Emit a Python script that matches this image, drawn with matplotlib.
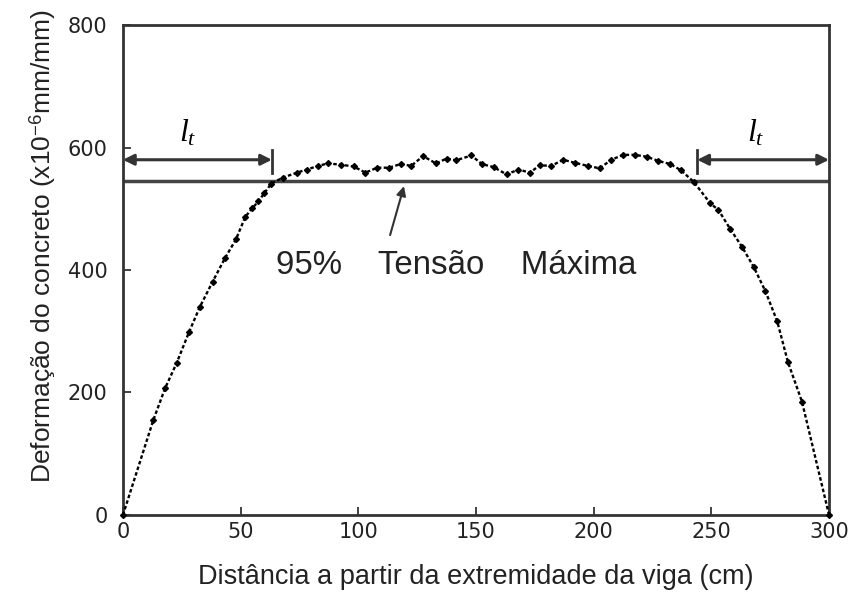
import numpy as np
import matplotlib
matplotlib.use("Agg")
from matplotlib import pyplot as plt

# strain along the beam
dist = [0, 12.9, 17.9, 22.8, 28.0, 32.7, 38.1, 43.3, 48.0, 52.0, 55.0, 57.5, 60.0, 63.0,
        68.0, 74.0, 78.0, 83.0, 87.0, 92.5, 98.0, 103.0, 108.0, 113.0, 118.0, 122.5,
        127.5, 133.0, 137.5, 141.5, 148.0, 152.5, 157.5, 163.0, 168.0, 173.0, 177.0,
        182.0, 187.0, 192.0, 197.5, 202.5, 207.5, 212.5, 217.5, 222.5, 227.5, 232.5,
        237.0, 242.5, 249.5, 253.0, 258.0, 263.0, 268.0, 273.0, 278.0, 282.5, 288.5, 300]
strain = [0, 155, 207, 248, 298, 340, 381, 419, 450, 487, 501, 512, 525, 541,
          551, 559, 564, 570, 574, 572, 569, 559, 567, 567, 573, 570,
          586, 574, 582, 579, 587, 573, 568, 556, 564, 559, 571,
          570, 580, 575, 570, 566, 580, 588, 588, 585, 578, 573,
          563, 544, 509, 498, 467, 438, 405, 365, 316, 250, 185, 0]

level95 = 545          # 95% da tensao maxima
lt_left = (0, 63.3)    # comprimento de transferencia
lt_right = (244, 300)
lt_y = 580

xticks = [0, 50, 100, 150, 200, 250, 300]
yticks = [0, 200, 400, 600, 800]

plt.rcParams['font.family'] = ['Liberation Sans', 'DejaVu Sans']
plt.rcParams['mathtext.fontset'] = 'custom'
plt.rcParams['mathtext.rm'] = 'Liberation Sans'
plt.rcParams['mathtext.it'] = 'Liberation Serif:italic'

fig = plt.figure(figsize=(8.51, 5.97), dpi=100)
ax = fig.add_axes([0.1445, 0.1374, 0.8297, 0.8207])

ax.plot(dist, strain, color='black', linestyle=(0, (1.5, 1)), linewidth=1.7,
        marker='D', markersize=3, clip_on=False, zorder=3)

ax.plot([0, 300], [level95, level95], color='#444444', linewidth=2.5, zorder=2)

# l_t arrows
arrow = dict(arrowstyle='<|-|>', color='#333333', lw=2.2,
             mutation_scale=16, shrinkA=0, shrinkB=0)
ax.annotate('', xy=(lt_left[0], lt_y), xytext=(lt_left[1], lt_y), arrowprops=arrow)
ax.annotate('', xy=(lt_right[0], lt_y), xytext=(lt_right[1], lt_y), arrowprops=arrow)
ax.plot([lt_left[1], lt_left[1]], [559, 596], color='#333333', lw=2)
ax.plot([lt_right[0], lt_right[0]], [559, 596], color='#333333', lw=2)
ax.text(27.6, 609, r'$l_t$', fontsize=23, ha='center', va='baseline')
ax.text(269, 609, r'$l_t$', fontsize=23, ha='center', va='baseline')

ax.annotate('', xy=(119.4, 537), xytext=(113.5, 457),
            arrowprops=dict(arrowstyle='-|>', color='#333333', lw=1.5,
                            mutation_scale=14, shrinkA=0, shrinkB=0))
ax.text(65, 408, '95%    Tensão    Máxima', fontsize=23.8, ha='left', va='center',
        color='#222222')

ax.set_xlim(0, 300)
ax.set_ylim(0, 800)
ax.set_xticks(xticks)
ax.set_yticks(yticks)
ax.tick_params(direction='in', length=6, width=1.2, labelsize=15, colors='#222222')
ax.tick_params(axis='y', pad=11)
ax.tick_params(axis='x', pad=5)
for lab in ax.get_xticklabels() + ax.get_yticklabels():
    lab.set_family('DejaVu Sans')
for s in ax.spines.values():
    s.set_linewidth(2)
    s.set_color('#333333')

ax.set_xlabel('Distância a partir da extremidade da viga (cm)', fontsize=19.5, labelpad=16,
              color='#222222')
ax.set_ylabel('Deformação do concreto (x10$^{-6}$mm/mm)', fontsize=19, labelpad=7,
              color='#222222')
ax.yaxis.label.set_y(0.549)

plt.savefig('out.png', dpi=100)
